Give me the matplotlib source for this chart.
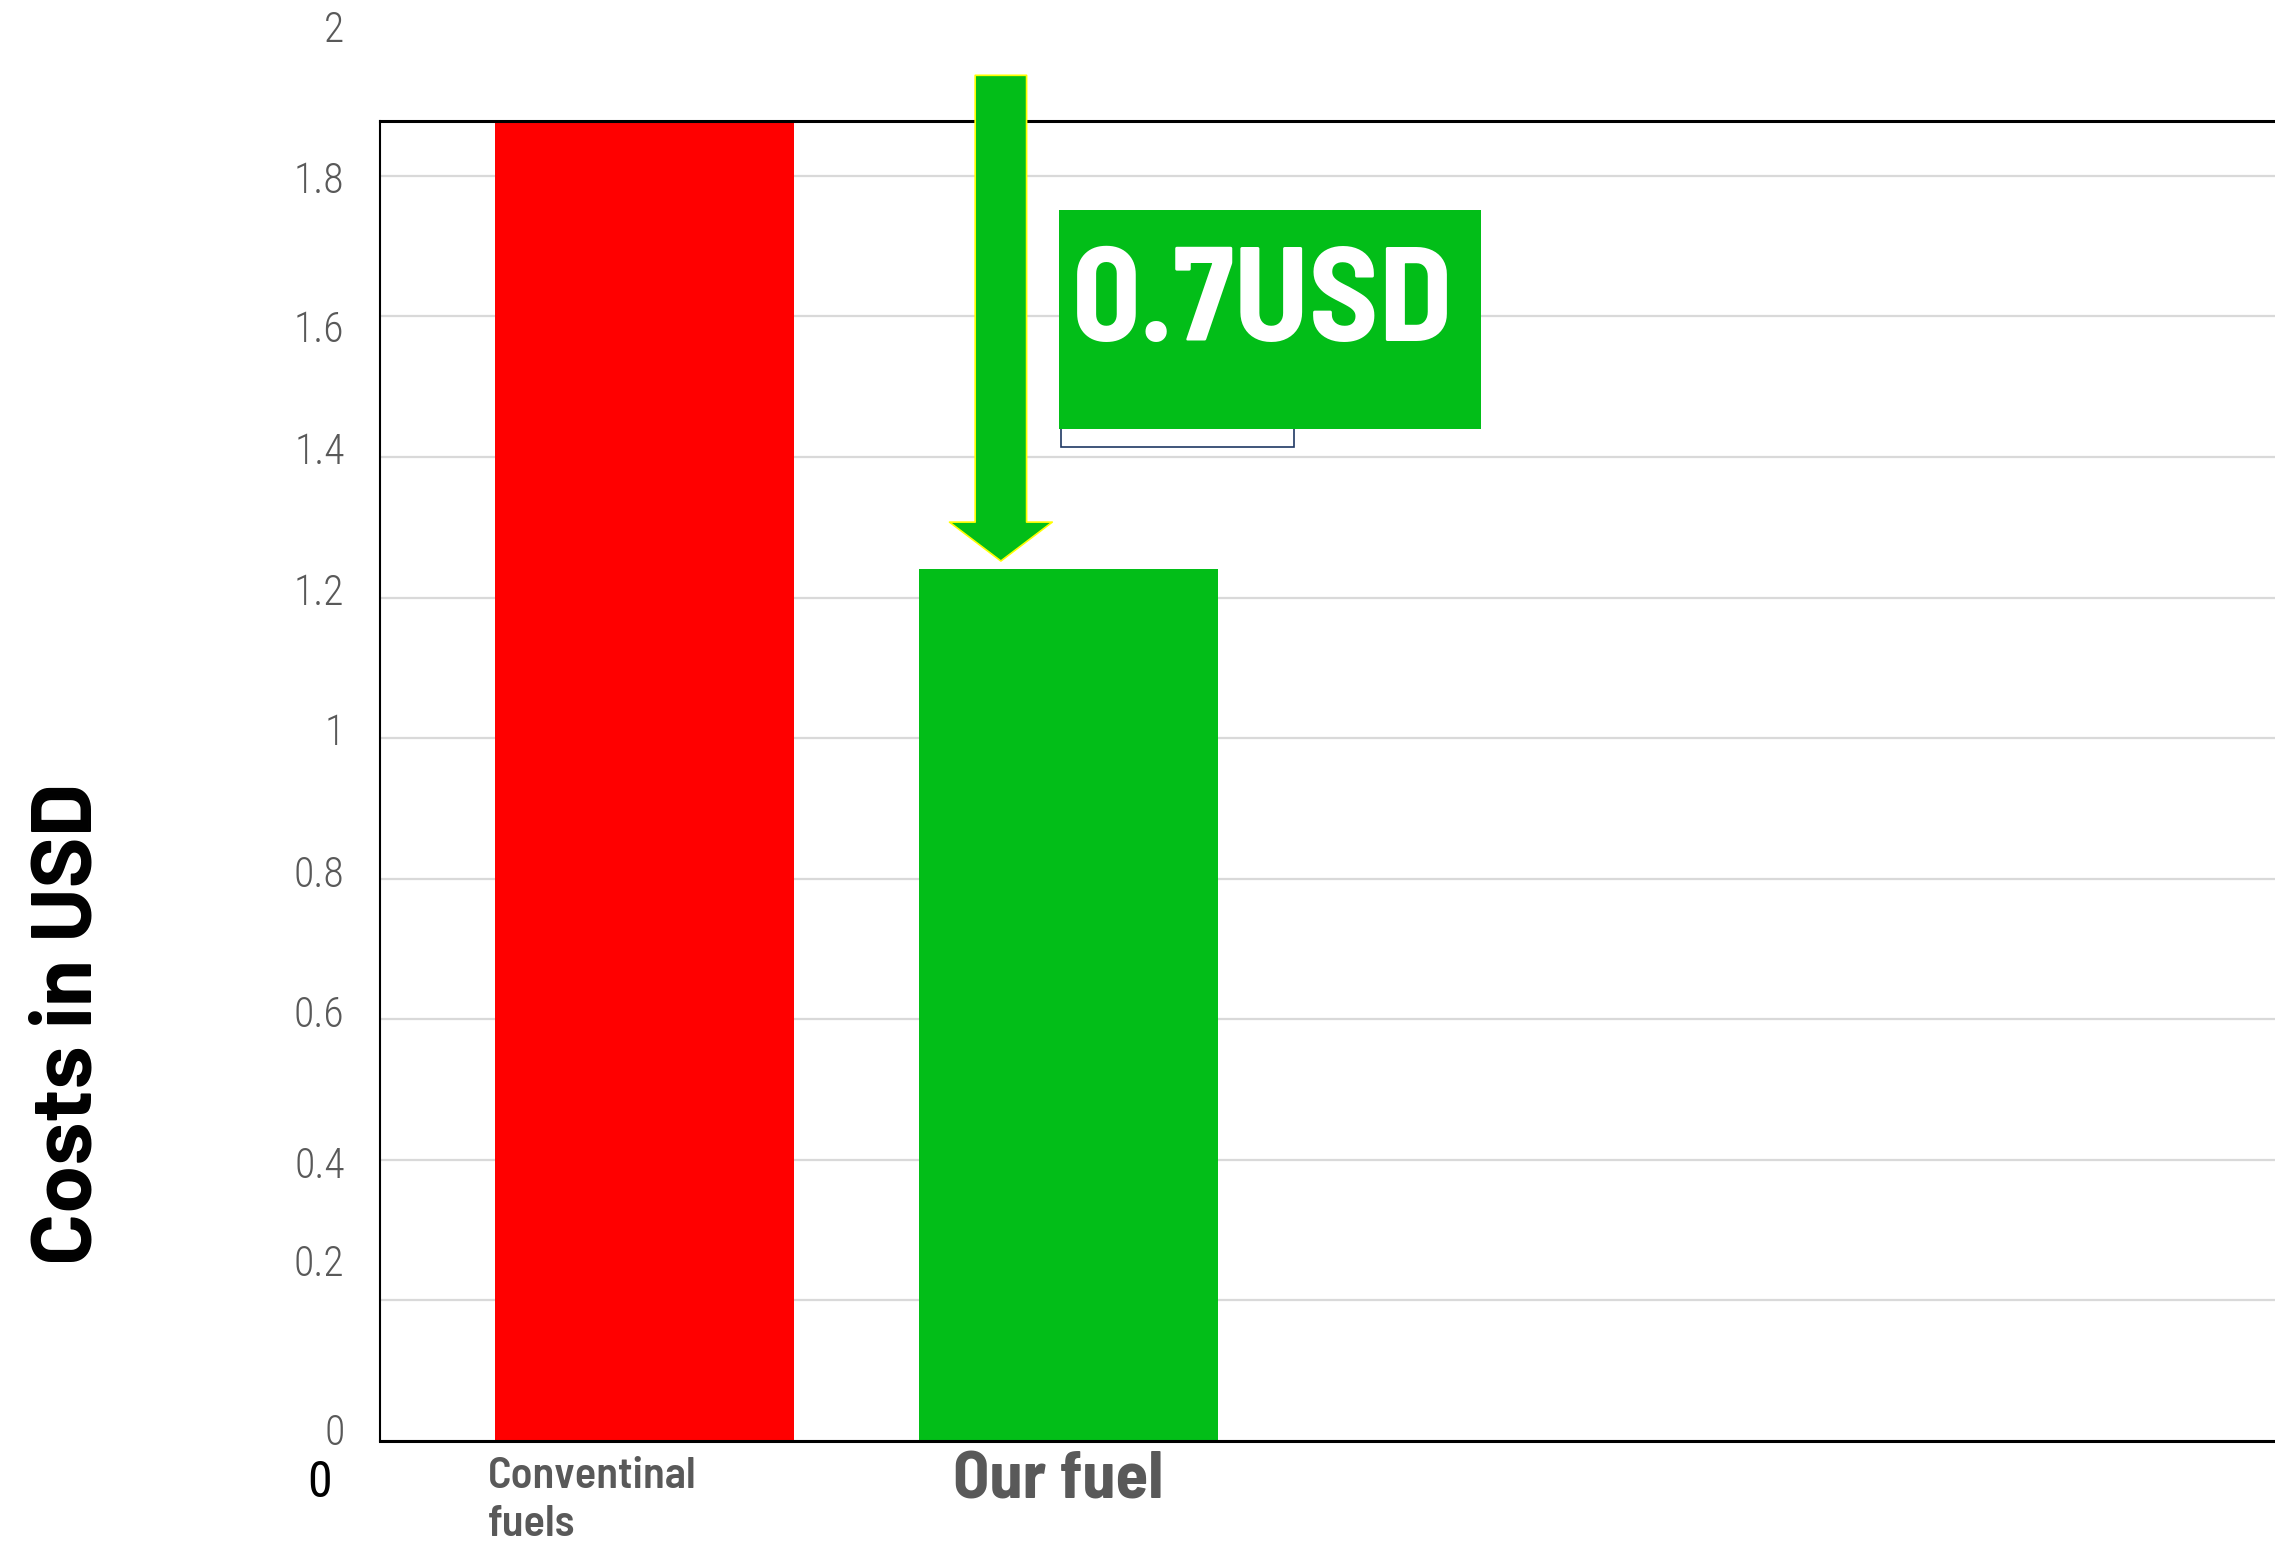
import matplotlib
matplotlib.use("Agg")
import matplotlib.pyplot as plt
from matplotlib.patches import Rectangle

# ===============================
# ==== DATA ====
# ===============================
categories = ['Conventinal\nfuels', 'Our fuel']
costs = [1.9, 1.24]
bar_colors = ['#FF0000', '#02BE18']

y_ticks = [0, 0.2, 0.4, 0.6, 0.8, 1.0, 1.2, 1.4, 1.6, 1.8, 2.0]
y_tick_labels = ['0', '0.2', '0.4', '0.6', '0.8', '1', '1.2', '1.4', '1.6', '1.8', '2']
# the labels in the original sit slightly off their gridlines
y_label_nudge = [0.011, 0.051, -0.009, 0.006, 0.005, 0.006, 0.006, 0.007, -0.020, -0.008, 0.007]

saving_label = '0.7USD'
y_title = 'Costs in USD'

# =======================
# ==== PLOT THE DATA ====
# =======================
THIN = ['Roboto Condensed', 'Liberation Sans Narrow', 'DejaVu Sans']
DIN = ['Barlow Semi Condensed', 'Barlow Condensed', 'DejaVu Sans']
DIN_WIDE = ['Barlow', 'Barlow Semi Condensed', 'DejaVu Sans']
GREY = '#595959'
GREEN = '#02BE18'

W, H = 2275, 1545
fig = plt.figure(figsize=(W / 100, H / 100), dpi=100)
ax = fig.add_axes([380 / W, 1 - 1441 / H, 1 - 380 / W + 0.01, (1441 - 121) / H])

ax.set_xlim(-0.625, 3.9)
ax.set_ylim(0, 1.878)

ax.bar(range(len(costs)), costs, width=0.705, color=bar_colors, zorder=2)

# gridlines + frame
ax.set_yticks(y_ticks[:-1])
ax.set_yticklabels([])
ax.set_xticks([])
ax.tick_params(axis='y', length=0)
ax.yaxis.grid(True, color='#D9D9D9', linewidth=1.6)
ax.set_axisbelow(True)
ax.spines['right'].set_visible(False)
ax.spines['top'].set_linewidth(2.2)
ax.spines['bottom'].set_linewidth(2.2)
ax.spines['left'].set_linewidth(1.5)

# y tick labels (drawn by hand so the "2" above the frame shows)
ytrans = ax.get_yaxis_transform()
for val, lab, nudge in zip(y_ticks, y_tick_labels, y_label_nudge):
    ax.text(-0.0185, val + nudge, lab, transform=ytrans, ha='right', va='center',
            fontsize=30, fontweight='light', color=GREY, family=THIN, clip_on=False)

# category labels
xtrans = ax.get_xaxis_transform()
ax.text(0 - 0.37, -0.012, categories[0], transform=xtrans, ha='left', va='top',
        fontsize=32, fontweight='semibold', color=GREY, family=DIN,
        linespacing=1.3, multialignment='left')
ax.text(1 - 0.025, -0.008, categories[1], transform=xtrans, ha='center', va='top',
        fontsize=48, fontweight='bold', color=GREY, family=DIN)

# stray zero below the axis
fig.text(320 / W, 1 - 1483 / H, '0', ha='center', va='center', fontsize=36,
         color='black', family=THIN)

# y title
fig.text(70 / W, 1 - 1024 / H, y_title, rotation=90, ha='center', va='center',
         fontsize=62, fontweight='bold', color='black', family=DIN_WIDE)

# down arrow from the top of the chart onto the green bar
ax.annotate('', xy=(0.84, 1.252), xytext=(0.84, 1.943), xycoords='data',
            annotation_clip=False,
            arrowprops=dict(arrowstyle='simple,head_length=28,head_width=74,tail_width=37',
                            mutation_scale=1, fc=GREEN, ec='#FFFF00', lw=1.2,
                            shrinkA=0, shrinkB=0, clip_on=False),
            zorder=4)

# saving call-out
ax.add_patch(Rectangle((0.981, 1.414), 0.55, 0.1, facecolor='white',
                       edgecolor='#1F3864', linewidth=1.2, zorder=3))
ax.add_patch(Rectangle((0.976, 1.44), 0.996, 0.311, facecolor=GREEN,
                       edgecolor='none', zorder=4))
ax.text(1.458, 1.565, saving_label, ha='center', va='baseline', fontsize=97,
        fontweight='bold', color='white', family=DIN, zorder=5)

fig.savefig('out.png', dpi=100)
